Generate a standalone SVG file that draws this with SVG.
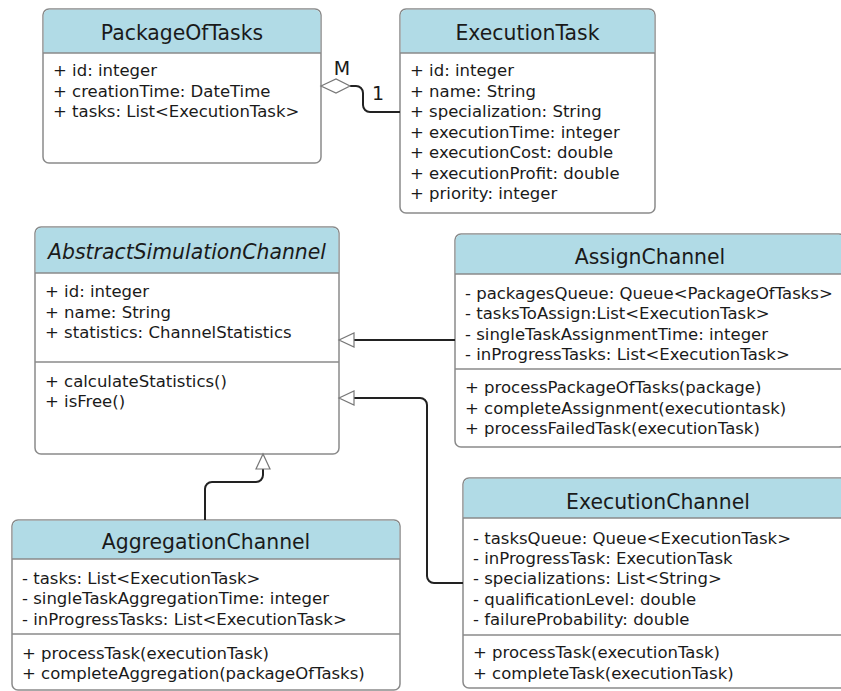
<svg xmlns="http://www.w3.org/2000/svg" width="841" height="691" viewBox="0 0 841 691">
  <style>
    .box { fill: #ffffff; stroke: #8a8a8a; stroke-width: 1.5; }
    .head { fill: #b1dbe6; stroke: none; }
    .sep { stroke: #8a8a8a; stroke-width: 1.5; fill: none; }
    .title { font-family: "DejaVu Sans", Verdana, sans-serif; font-size: 20.4px; fill: #1a1a1a; text-anchor: middle; }
    .abstract { font-style: italic; }
    .row { font-family: "DejaVu Sans", Verdana, sans-serif; font-size: 16.5px; fill: #1a1a1a; }
    .edge { fill: none; stroke: #222222; stroke-width: 2; }
    .gen { fill: #ffffff; stroke: #777777; stroke-width: 1.2; }
    .mult { font-family: "DejaVu Sans", Verdana, sans-serif; font-size: 19px; fill: #1a1a1a; text-anchor: middle; }
  </style>
  <rect width="841" height="691" fill="#ffffff"/>

  <!-- PackageOfTasks -->
  <g id="PackageOfTasks">
    <rect class="box" x="43" y="9" width="278" height="154" rx="6"/>
    <path class="head" d="M43.75,53 V15 a5.25,5.25 0 0 1 5.25,-5.25 H315 a5.25,5.25 0 0 1 5.25,5.25 V53 Z"/>
    <line class="sep" x1="43" y1="53" x2="321" y2="53"/>
    <text class="title" x="182" y="40">PackageOfTasks</text>
    <text class="row" x="53" y="76">+ id: integer</text>
    <text class="row" x="53" y="96.5">+ creationTime: DateTime</text>
    <text class="row" x="53" y="117">+ tasks: List&lt;ExecutionTask&gt;</text>
  </g>

  <!-- ExecutionTask -->
  <g id="ExecutionTask">
    <rect class="box" x="400" y="9" width="255" height="204" rx="6"/>
    <path class="head" d="M400.75,53 V15 a5.25,5.25 0 0 1 5.25,-5.25 H649 a5.25,5.25 0 0 1 5.25,5.25 V53 Z"/>
    <line class="sep" x1="400" y1="53" x2="655" y2="53"/>
    <text class="title" x="527.5" y="40">ExecutionTask</text>
    <text class="row" x="410" y="76">+ id: integer</text>
    <text class="row" x="410" y="96.5">+ name: String</text>
    <text class="row" x="410" y="117">+ specialization: String</text>
    <text class="row" x="410" y="137.5">+ executionTime: integer</text>
    <text class="row" x="410" y="158">+ executionCost: double</text>
    <text class="row" x="410" y="178.5">+ executionProfit: double</text>
    <text class="row" x="410" y="199">+ priority: integer</text>
  </g>

  <!-- AbstractSimulationChannel -->
  <g id="AbstractSimulationChannel">
    <rect class="box" x="35" y="227" width="304" height="227" rx="6"/>
    <path class="head" d="M35.75,273 V233 a5.25,5.25 0 0 1 5.25,-5.25 H333 a5.25,5.25 0 0 1 5.25,5.25 V273 Z"/>
    <line class="sep" x1="35" y1="273" x2="339" y2="273"/>
    <line class="sep" x1="35" y1="362" x2="339" y2="362"/>
    <text class="title abstract" x="187" y="259">AbstractSimulationChannel</text>
    <text class="row" x="45" y="297">+ id: integer</text>
    <text class="row" x="45" y="317.5">+ name: String</text>
    <text class="row" x="45" y="338">+ statistics: ChannelStatistics</text>
    <text class="row" x="45" y="386.5">+ calculateStatistics()</text>
    <text class="row" x="45" y="407">+ isFree()</text>
  </g>

  <!-- AssignChannel -->
  <g id="AssignChannel">
    <rect class="box" x="455" y="234" width="390" height="213" rx="6"/>
    <path class="head" d="M455.75,274 V240 a5.25,5.25 0 0 1 5.25,-5.25 H839 a5.25,5.25 0 0 1 5.25,5.25 V274 Z"/>
    <line class="sep" x1="455" y1="274" x2="845" y2="274"/>
    <line class="sep" x1="455" y1="369" x2="845" y2="369"/>
    <text class="title" x="650" y="264">AssignChannel</text>
    <text class="row" x="465" y="299">- packagesQueue: Queue&lt;PackageOfTasks&gt;</text>
    <text class="row" x="465" y="319">- tasksToAssign:List&lt;ExecutionTask&gt;</text>
    <text class="row" x="465" y="339.5">- singleTaskAssignmentTime: integer</text>
    <text class="row" x="465" y="360">- inProgressTasks: List&lt;ExecutionTask&gt;</text>
    <text class="row" x="465" y="393">+ processPackageOfTasks(package)</text>
    <text class="row" x="465" y="413.5">+ completeAssignment(executiontask)</text>
    <text class="row" x="465" y="434">+ processFailedTask(executionTask)</text>
  </g>

  <!-- AggregationChannel -->
  <g id="AggregationChannel">
    <rect class="box" x="12" y="520" width="388" height="170" rx="6"/>
    <path class="head" d="M12.75,559 V526 a5.25,5.25 0 0 1 5.25,-5.25 H394 a5.25,5.25 0 0 1 5.25,5.25 V559 Z"/>
    <line class="sep" x1="12" y1="559" x2="400" y2="559"/>
    <line class="sep" x1="12" y1="634" x2="400" y2="634"/>
    <text class="title" x="206" y="549">AggregationChannel</text>
    <text class="row" x="22" y="583.5">- tasks: List&lt;ExecutionTask&gt;</text>
    <text class="row" x="22" y="604">- singleTaskAggregationTime: integer</text>
    <text class="row" x="22" y="624.5">- inProgressTasks: List&lt;ExecutionTask&gt;</text>
    <text class="row" x="22" y="658.5">+ processTask(executionTask)</text>
    <text class="row" x="22" y="679">+ completeAggregation(packageOfTasks)</text>
  </g>

  <!-- ExecutionChannel -->
  <g id="ExecutionChannel">
    <rect class="box" x="463" y="478" width="390" height="210" rx="6"/>
    <path class="head" d="M463.75,518 V484 a5.25,5.25 0 0 1 5.25,-5.25 H847 a5.25,5.25 0 0 1 5.25,5.25 V518 Z"/>
    <line class="sep" x1="463" y1="518" x2="853" y2="518"/>
    <line class="sep" x1="463" y1="635" x2="853" y2="635"/>
    <text class="title" x="658" y="509">ExecutionChannel</text>
    <text class="row" x="473" y="543.5">- tasksQueue: Queue&lt;ExecutionTask&gt;</text>
    <text class="row" x="473" y="564">- inProgressTask: ExecutionTask</text>
    <text class="row" x="473" y="584">- specializations: List&lt;String&gt;</text>
    <text class="row" x="473" y="604.5">- qualificationLevel: double</text>
    <text class="row" x="473" y="625">- failureProbability: double</text>
    <text class="row" x="473" y="658">+ processTask(executionTask)</text>
    <text class="row" x="473" y="679">+ completeTask(executionTask)</text>
  </g>

  <!-- connectors -->
  <g id="connectors">
    <!-- aggregation: PackageOfTasks holds ExecutionTask -->
    <path class="edge" d="M350,86 H356 a7,7 0 0 1 7,7 V105 a7,7 0 0 0 7,7 H400"/>
    <polygon class="gen" points="321,86 336,79 350,86 336,93"/>
    <text class="mult" x="342" y="75">M</text>
    <text class="mult" x="378" y="100">1</text>

    <!-- AssignChannel generalization -->
    <path class="edge" d="M455,340 H354"/>
    <polygon class="gen" points="339,340 354,333 354,347"/>

    <!-- ExecutionChannel generalization -->
    <path class="edge" d="M463,583 H434 a7,7 0 0 1 -7,-7 V405 a7,7 0 0 0 -7,-7 H354"/>
    <polygon class="gen" points="339,398 354,391 354,405"/>

    <!-- AggregationChannel generalization -->
    <path class="edge" d="M205,520 V489 a7,7 0 0 1 7,-7 H256 a7,7 0 0 0 7,-7 V469"/>
    <polygon class="gen" points="263,454 256,469 270,469"/>
  </g>
</svg>
